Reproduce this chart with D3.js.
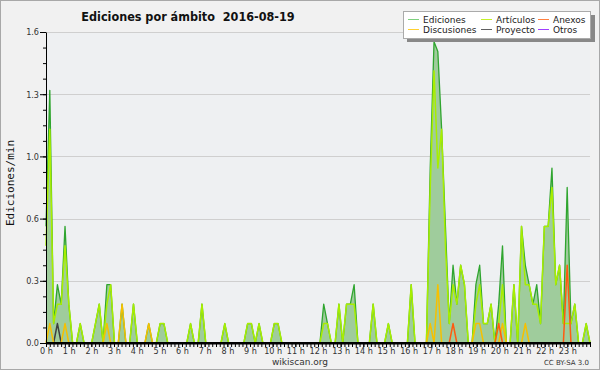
<!DOCTYPE html>
<html lang="es">
<head>
<meta charset="utf-8">
<title>Ediciones por ámbito</title>
<script src="https://d3js.org/d3.v7.min.js"></script>
<style>
  body { margin: 0; padding: 0; background: #fff; }
  svg { display: block; }
  .tick text { font-family: 'DejaVu Sans Condensed', 'DejaVu Sans', sans-serif; font-size: 9px; fill: #333; }
</style>
</head>
<body>
<div id="chart"></div>
<script>
// valores por intervalo de 10 minutos (144 intervalos)
var ediciones = [
  0.6,1.3,0.1,0.3,0.2,0.6,0.2,0,0,0.1,0,0,
  0,0.1,0.2,0,0.3,0.3,0,0,0.2,0,0,0.2,
  0,0,0,0.1,0,0,0.1,0.1,0,0,0,0,
  0,0,0.1,0,0,0.2,0,0,0,0,0,0.1,
  0,0,0,0,0,0.1,0.1,0,0.1,0,0,0,
  0.1,0.1,0,0,0,0,0,0,0,0,0,0,
  0,0.2,0.1,0,0,0.2,0,0.2,0.2,0.3,0,0,
  0,0,0.2,0,0,0,0.1,0,0,0,0,0,
  0.3,0,0,0,0,0.9,1.55,1.5,1.1,0.6,0.1,0.4,
  0.2,0.4,0.3,0,0,0.3,0.4,0.1,0.1,0.2,0,0.2,
  0.5,0,0,0.3,0,0.6,0.4,0.3,0.2,0.3,0.1,0.6,
  0.6,0.9,0.3,0.4,0.1,0.8,0.1,0.2,0,0,0.1,0
];
var articulos = [
  0.5,1.1,0.1,0.2,0.2,0.5,0.2,0,0,0.1,0,0,
  0,0.1,0.2,0,0.2,0.3,0,0,0,0,0,0.2,
  0,0,0,0,0,0,0.1,0.1,0,0,0,0,
  0,0,0.1,0,0,0.2,0,0,0,0,0,0.1,
  0,0,0,0,0,0.1,0.1,0,0.1,0,0,0,
  0.1,0.1,0,0,0,0,0,0,0,0,0,0,
  0,0.1,0.1,0,0,0.2,0,0.2,0.2,0.2,0,0,
  0,0,0.2,0,0,0,0.1,0,0,0,0,0,
  0.3,0,0,0,0,0.8,1.4,0.9,1.1,0.5,0.1,0.3,
  0.2,0.4,0.3,0,0,0.2,0.3,0.1,0.1,0.2,0,0.1,
  0.3,0,0,0.3,0,0.6,0.3,0.3,0.2,0.2,0.1,0.6,
  0.6,0.8,0.3,0.4,0.1,0.1,0.1,0.2,0,0,0.1,0
];
var discusiones = [
  0,0.1,0,0,0,0.1,0,0,0,0,0,0,
  0,0,0,0,0.1,0,0,0,0.2,0,0,0,
  0,0,0,0.1,0,0,0,0,0,0,0,0,
  0,0,0,0,0,0,0,0,0,0,0,0,
  0,0,0,0,0,0,0,0,0,0,0,0,
  0,0,0,0,0,0,0,0,0,0,0,0,
  0,0,0,0,0,0,0,0,0,0,0,0,
  0,0,0,0,0,0,0,0,0,0,0,0,
  0,0,0,0,0,0.1,0,0.3,0,0,0,0,
  0,0,0,0,0,0.1,0.1,0,0,0,0,0,
  0.1,0,0,0,0,0,0.1,0,0,0,0,0,
  0,0,0,0,0,0,0,0,0,0,0,0
];
var proyecto = [
  0,0,0,0.1,0,0,0,0,0,0,0,0,
  0,0,0,0,0,0,0,0,0,0,0,0,
  0,0,0,0,0,0,0,0,0,0,0,0,
  0,0,0,0,0,0,0,0,0,0,0,0,
  0,0,0,0,0,0,0,0,0,0,0,0,
  0,0,0,0,0,0,0,0,0,0,0,0,
  0,0,0,0,0,0,0,0,0,0,0,0,
  0,0,0,0,0,0,0,0,0,0,0,0,
  0,0,0,0,0,0,0,0,0,0,0,0,
  0,0,0,0,0,0,0,0,0,0,0,0,
  0,0,0,0,0,0,0,0,0,0,0,0,
  0,0,0,0,0,0,0,0,0,0,0,0
];
var anexos = [
  0,0,0,0,0,0,0,0,0,0,0,0,
  0,0,0,0,0,0,0,0,0,0,0,0,
  0,0,0,0,0,0,0,0,0,0,0,0,
  0,0,0,0,0,0,0,0,0,0,0,0,
  0,0,0,0,0,0,0,0,0,0,0,0,
  0,0,0,0,0,0,0,0,0,0,0,0,
  0,0,0,0,0,0,0,0,0,0,0,0,
  0,0,0,0,0,0,0,0,0,0,0,0,
  0,0,0,0,0,0,0,0,0,0,0,0.1,
  0,0,0,0,0,0,0,0,0,0,0,0.1,
  0,0,0,0,0,0,0,0,0,0,0,0,
  0,0,0,0,0,0.4,0,0,0,0,0,0
];
var otros = [
  0,0,0,0,0,0,0,0,0,0,0,0,
  0,0,0,0,0,0,0,0,0,0,0,0,
  0,0,0,0,0,0,0,0,0,0,0,0,
  0,0,0,0,0,0,0,0,0,0,0,0,
  0,0,0,0,0,0,0,0,0,0,0,0,
  0,0,0,0,0,0,0,0,0,0,0,0,
  0,0,0,0,0,0,0,0,0,0,0,0,
  0,0,0,0,0,0,0,0,0,0,0,0,
  0,0,0,0,0,0,0,0,0,0,0,0,
  0,0,0,0,0,0,0,0,0,0,0,0,
  0,0,0,0,0,0,0,0,0,0,0,0,
  0,0,0,0,0,0,0,0,0,0,0,0
];

var horas = d3.range(24);
var yTicks = [0, 0.32, 0.64, 0.96, 1.28, 1.6];

var series = [
  {name: "Ediciones",   values: ediciones,   color: "#2fa52f", legend: "#7ed07e"},
  {name: "Artículos",   values: articulos,   color: "#a8ee00", legend: "#c4f02a"},
  {name: "Anexos",      values: anexos,      color: "#ff5a10", legend: "#ff8040"},
  {name: "Discusiones", values: discusiones, color: "#f6c000", legend: "#ffd030"},
  {name: "Proyecto",    values: proyecto,    color: "#404040", legend: "#606060"},
  {name: "Otros",       values: otros,       color: "#8a2be2", legend: "#a040ff"}
];

var width = 600, height = 370;
// ojo: "top" es una propiedad de window, no usarla como variable
var plot = {x0: 46, x1: 590, y0: 343, y1: 32};

var svg = d3.select("#chart").append("svg")
  .attr("width", width)
  .attr("height", height);

// fondo
svg.append("rect")
  .attr("x", 0.5).attr("y", 0.5)
  .attr("width", width - 1).attr("height", height - 1)
  .attr("fill", "#f1f1f1")
  .attr("stroke", "#a8a8a8");

svg.append("rect")
  .attr("x", plot.x0).attr("y", plot.y1)
  .attr("width", plot.x1 - plot.x0).attr("height", plot.y0 - plot.y1)
  .attr("fill", "#eef0f2");

// escalas
var xi = d3.scaleLinear().domain([0, 143]).range([plot.x0, plot.x1]);
var xh = d3.scaleLinear().domain([0, 24]).range([plot.x0, plot.x1]);
var y = d3.scaleLinear().domain([0, 1.6]).range([plot.y0, plot.y1]);

// rejilla
svg.append("g").selectAll("line")
  .data(yTicks)
  .enter().append("line")
    .attr("x1", plot.x0).attr("x2", plot.x1)
    .attr("y1", function(d) { return Math.round(y(d)) + 0.5; })
    .attr("y2", function(d) { return Math.round(y(d)) + 0.5; })
    .attr("stroke", "#cfcfcf")
    .attr("stroke-width", 1);

// area de ediciones
var area = d3.area()
  .x(function(d, i) { return xi(i); })
  .y0(plot.y0)
  .y1(function(d) { return y(d); });

svg.append("path")
  .datum(ediciones)
  .attr("d", area)
  .attr("fill", "#9fcc9c");

var line = d3.line()
  .x(function(d, i) { return xi(i); })
  .y(function(d) { return y(d); });

// primero ediciones, luego el resto encima
var drawOrder = [series[5], series[0], series[1], series[4], series[3], series[2]];
drawOrder.forEach(function(s) {
  svg.append("path")
    .datum(s.values)
    .attr("d", line)
    .attr("fill", "none")
    .attr("stroke", s.color)
    .attr("stroke-width", s.name == "Ediciones" ? 1.3 : 1.5)
    .attr("stroke-linejoin", "round");
});

// eje Y
svg.append("g")
  .attr("transform", "translate(" + plot.x0 + ",0)")
  .call(d3.axisLeft(y).tickValues(d3.range(0, 1.601, 0.08)).tickSize(3).tickFormat(""))
  .call(function(g) { g.select(".domain").remove(); g.selectAll("line").attr("stroke", "#000"); });

var yAxis = svg.append("g")
  .attr("transform", "translate(" + plot.x0 + ",0)")
  .call(d3.axisLeft(y).tickValues(yTicks).tickSize(6).tickSizeOuter(0).tickPadding(1)
    .tickFormat(d3.format(".1f")));
yAxis.selectAll("line").attr("stroke", "#000");
yAxis.select(".domain").attr("stroke", "#000");

// eje X (linea base gruesa para tapar las series en cero)
svg.append("g")
  .attr("transform", "translate(0," + plot.y0 + ")")
  .call(d3.axisBottom(xh).tickValues(d3.range(0, 24.001, 1 / 6)).tickSize(4).tickSizeOuter(0).tickFormat(""))
  .call(function(g) { g.selectAll("line").attr("stroke", "#000"); g.select(".domain").remove(); });

svg.append("line")
  .attr("x1", plot.x0).attr("x2", plot.x1 + 1)
  .attr("y1", plot.y0 + 0.2).attr("y2", plot.y0 + 0.2)
  .attr("stroke", "#000")
  .attr("stroke-width", 2.4);

svg.append("g")
  .attr("transform", "translate(0," + plot.y0 + ")")
  .call(d3.axisBottom(xh).tickValues(horas).tickSize(4).tickPadding(1)
    .tickFormat(function(d) { return d + " h"; }))
  .call(function(g) { g.select(".domain").remove(); g.selectAll("line").attr("stroke", "#000"); });

// titulo
svg.append("text")
  .attr("x", 188).attr("y", 21)
  .attr("text-anchor", "middle")
  .style("white-space", "pre")
  .style("font-family", "'DejaVu Sans Condensed', 'DejaVu Sans', sans-serif")
  .style("font-weight", "bold")
  .style("font-size", "12.5px")
  .attr("fill", "#111")
  .text("Ediciones por ámbito  2016-08-19");

// etiqueta eje Y
svg.append("text")
  .attr("transform", "translate(14,183) rotate(-90)")
  .attr("text-anchor", "middle")
  .style("font-family", "'DejaVu Sans Mono', monospace")
  .style("font-size", "11px")
  .attr("fill", "#111")
  .text("Ediciones/min");

// pie
svg.append("text")
  .attr("x", 300).attr("y", 365)
  .attr("text-anchor", "middle")
  .style("font-family", "'DejaVu Sans', sans-serif")
  .style("font-size", "9px")
  .attr("fill", "#333")
  .text("wikiscan.org");

svg.append("text")
  .attr("x", 589).attr("y", 365)
  .attr("text-anchor", "end")
  .style("font-family", "'DejaVu Sans', sans-serif")
  .style("font-size", "7px")
  .attr("fill", "#333")
  .text("CC BY-SA 3.0");

// leyenda
var lg = svg.append("g");
lg.append("rect")
  .attr("x", 407).attr("y", 15)
  .attr("width", 188).attr("height", 27)
  .attr("fill", "#888");
lg.append("rect")
  .attr("x", 403.5).attr("y", 11.5)
  .attr("width", 187).attr("height", 27)
  .attr("fill", "#fff")
  .attr("stroke", "#aaa");

var legendCols = [408, 481, 538];
var legendRows = [19.5, 29.5];
var legendPos = [[0, 0], [1, 0], [2, 0], [0, 1], [1, 1], [2, 1]];
series.forEach(function(s, k) {
  var cx = legendCols[legendPos[k][0]], cy = legendRows[legendPos[k][1]];
  lg.append("line")
    .attr("x1", cx).attr("x2", cx + 11)
    .attr("y1", cy).attr("y2", cy)
    .attr("stroke", s.legend);
  lg.append("text")
    .attr("x", cx + 15).attr("y", cy + 3.5)
    .style("font-family", "'DejaVu Sans', sans-serif")
    .style("font-size", "9px")
    .attr("fill", "#222")
    .text(s.name);
});
</script>
</body>
</html>
